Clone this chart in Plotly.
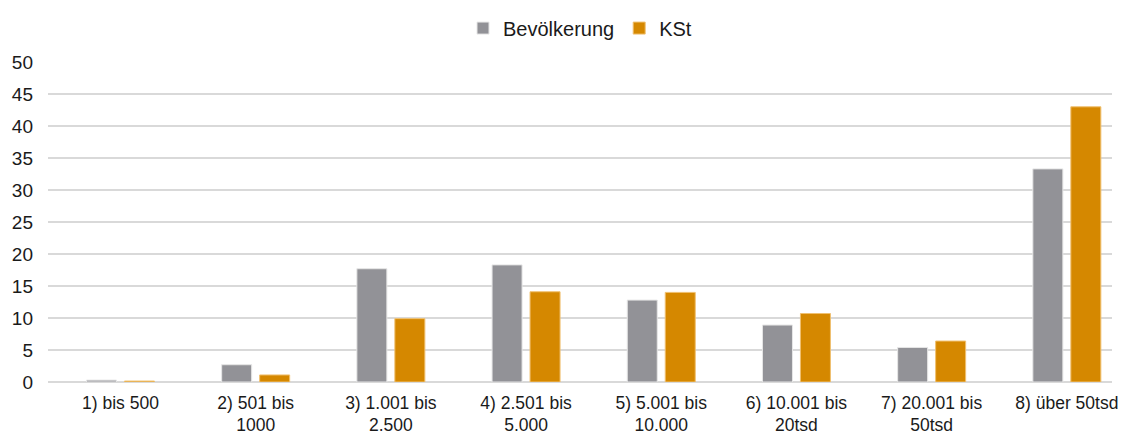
import plotly.graph_objects as go

categories = [
    "1) bis 500",
    "2) 501 bis<br>1000",
    "3) 1.001 bis<br>2.500",
    "4) 2.501 bis<br>5.000",
    "5) 5.001 bis<br>10.000",
    "6) 10.001 bis<br>20tsd",
    "7) 20.001 bis<br>50tsd",
    "8) über 50tsd",
]
bevoelkerung = [0.3, 2.7, 17.7, 18.3, 12.8, 8.9, 5.4, 33.3]
kst = [0.15, 1.1, 9.9, 14.1, 14.0, 10.7, 6.4, 43.0]
y_ticks = list(range(0, 55, 5))

fig = go.Figure()
fig.add_trace(go.Bar(
    x=categories, y=bevoelkerung, name="Bevölkerung",
    marker=dict(color="#929297", line=dict(color="#e6e6e6", width=1))
))
fig.add_trace(go.Bar(
    x=categories, y=kst, name="KSt",
    marker=dict(color="#d58800", line=dict(color="#f0c070", width=1))
))

# page body has an 8px margin, so the figure is a bit smaller than the window
fig.update_layout(
    width=1119, height=430,
    barmode="group", bargap=0.438, bargroupgap=0.21,
    plot_bgcolor="white", paper_bgcolor="white",
    font=dict(family="Liberation Sans, Arial, sans-serif", size=19, color="#1a1a1a"),
    margin=dict(l=40, r=15, t=54, b=56, autoexpand=False),
    legend=dict(orientation="h", x=0.5, xanchor="center", y=1.106, yanchor="middle",
                font=dict(size=20), itemwidth=30, traceorder="normal"),
    # the categories run slightly past the right end of the gridlines
    xaxis=dict(range=[-0.536, 7.334], showgrid=False, ticks="", showline=False,
               automargin=False, tickfont=dict(size=17.5), ticklabelstandoff=8),
    yaxis=dict(range=[0, 50], tickvals=y_ticks, showgrid=True, gridcolor="#d9d9d9",
               gridwidth=1.5, zeroline=True, zerolinecolor="#d9d9d9", zerolinewidth=1.5,
               ticks="", automargin=False, tickfont=dict(size=19), ticklabelstandoff=14),
)

fig.write_html("out.html")
